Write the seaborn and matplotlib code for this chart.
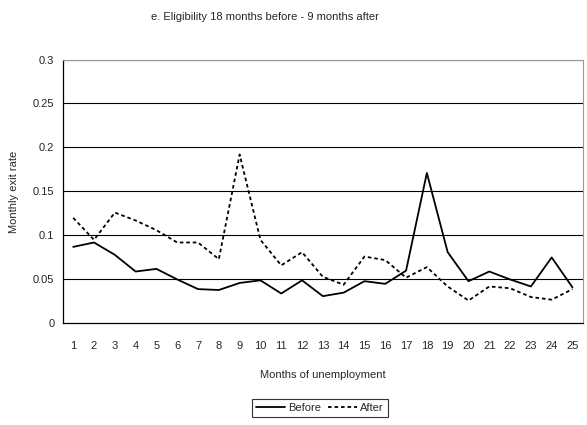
import matplotlib
matplotlib.use("Agg")
import matplotlib.pyplot as plt
import numpy as np
import pandas as pd
import seaborn as sns

months = list(range(1, 26))
before = [0.087, 0.092, 0.078, 0.059, 0.062, 0.050, 0.039, 0.038, 0.046, 0.049,
          0.034, 0.049, 0.031, 0.035, 0.048, 0.045, 0.060, 0.171, 0.081, 0.048,
          0.059, 0.050, 0.042, 0.075, 0.041]
after = [0.120, 0.095, 0.126, 0.117, 0.106, 0.092, 0.092, 0.073, 0.192, 0.095,
         0.066, 0.081, 0.053, 0.044, 0.076, 0.072, 0.052, 0.064, 0.042, 0.026,
         0.042, 0.040, 0.030, 0.027, 0.039]
series = ["Before", "After"]
yticks = [0, 0.05, 0.1, 0.15, 0.2, 0.25, 0.3]

df = pd.DataFrame({
    "month": months * 2,
    "rate": before + after,
    "series": ["Before"] * len(months) + ["After"] * len(months),
})

sns.set_style("white")
plt.rcParams["font.family"] = ["Liberation Sans Narrow", "Liberation Sans", "DejaVu Sans"]
plt.rcParams["font.size"] = 8

fig = plt.figure(figsize=(5.87, 4.25), dpi=100)
ax = fig.add_axes([0.107, 0.239, 0.886, 0.621])

sns.lineplot(
    data=df, x="month", y="rate", style="series", style_order=series,
    dashes={"Before": "", "After": (2, 1.6)}, color="black", linewidth=1.3,
    legend=False, ax=ax,
)

ax.set_xlim(0.5, 25.5)
ax.set_ylim(0, 0.3)
ax.set_yticks(yticks)
ax.set_yticklabels(["0", "0.05", "0.1", "0.15", "0.2", "0.25", "0.3"])
ax.set_xticks(months)
ax.set_xticklabels([str(m) for m in months])
ax.set_xticks(np.arange(1.5, 25, 1), minor=True)
ax.tick_params(axis="x", which="major", length=0, pad=13)
ax.tick_params(axis="x", which="minor", length=4.5, width=0.8, color="black", direction="out")
ax.tick_params(axis="y", which="major", length=8, width=0.8, color="black", direction="inout", pad=2)
for v in yticks[1:]:
    ax.axhline(v, color="black", linewidth=0.8, zorder=0)

for side in ["top", "right"]:
    ax.spines[side].set_color("#999999")
    ax.spines[side].set_linewidth(0.8)
for side in ["left", "bottom"]:
    ax.spines[side].set_color("black")
    ax.spines[side].set_linewidth(0.9)

ax.set_xlabel("Months of unemployment", labelpad=13)
ax.set_ylabel("Monthly exit rate", labelpad=10)
fig.text(0.452, 0.961, "e. Eligibility 18 months before - 9 months after", ha="center", va="center", fontsize=8)

handles = [
    plt.Line2D([], [], color="black", linewidth=1.3),
    plt.Line2D([], [], color="black", linewidth=1.3, dashes=(2, 1.6)),
]
leg = fig.legend(handles, series, loc="center", bbox_to_anchor=(0.545, 0.04), ncol=2,
                 frameon=True, fancybox=False, edgecolor="black", handlelength=2.6,
                 handletextpad=0.3, columnspacing=0.6, borderpad=0.35, fontsize=8)
leg.get_frame().set_linewidth(0.8)

fig.savefig("out.png", dpi=100)
